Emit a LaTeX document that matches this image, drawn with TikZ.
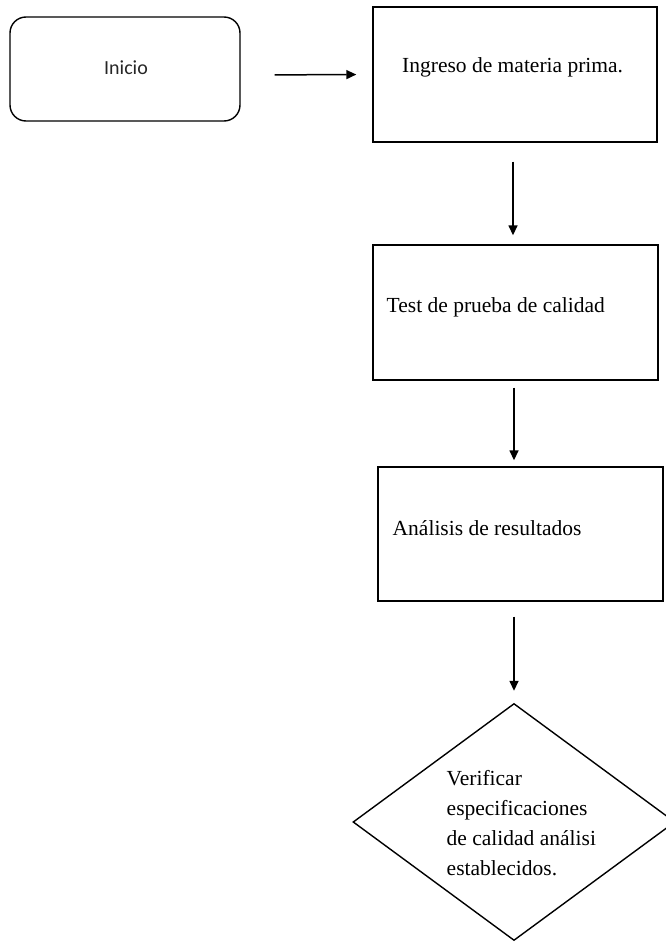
\documentclass[tikz,border=0pt]{standalone}
\usepackage{fontspec}
\setmainfont{Liberation Serif}
\newfontfamily\inisans{Carlito}
\usetikzlibrary{arrows.meta,shapes.geometric}
\begin{document}
\begin{tikzpicture}[x=1pt,y=-1pt,line width=1.4pt,
  arr/.style={line width=1.5pt,-{Triangle[length=10pt,width=9pt]}},
  procbox/.style={draw,rectangle,inner sep=0pt},
  lbl/.style={font=\fontsize{21.5}{29.7}\selectfont,inner sep=0pt,anchor=base west},
]
\useasboundingbox (0,0) rectangle (665,942);
\node[draw,rounded corners=16pt,minimum width=230pt,minimum height=104pt,inner sep=0pt] (ini) at (125,69) {};
\node[font=\inisans\fontsize{20}{24}\selectfont,inner sep=0pt,text=black!85] (initxt) at (126,68) {Inicio};
\node[procbox,minimum width=284pt,minimum height=135pt] (b1) at (515,74.5) {};
\node[procbox,minimum width=285pt,minimum height=135pt] (b2) at (515.5,312.5) {};
\node[procbox,minimum width=285pt,minimum height=134pt] (b3) at (520.5,534) {};
\node[draw,diamond,inner sep=0pt,minimum width=322pt,minimum height=237pt] (d) at (514,822) {};
\node[lbl] (t1) at (401.5,72) {Ingreso de materia prima.};
\node[lbl] (t2) at (386,312) {Test de prueba de calidad};
\node[lbl] (t3) at (392,535) {Análisis de resultados};
\node[lbl,align=left] (t4) at (446,875) {Verificar\\especificaciones\\de calidad análisi\\establecidos.};
\draw[arr,shorten <=34pt,shorten >=16pt] ([yshift=-6pt]ini.east) -- (b1.west);
\draw[arr,shorten <=19pt,shorten >=9pt] ([xshift=-2pt]b1.south) -- ([xshift=-2.5pt]b2.north);
\draw[arr,shorten <=7pt,shorten >=6pt] ([xshift=-1.5pt]b2.south) -- ([xshift=-6.5pt]b3.north);
\draw[arr,shorten <=15pt,shorten >=12pt] ([xshift=-6.5pt]b3.south) -- (d.north);
\end{tikzpicture}
\end{document}
